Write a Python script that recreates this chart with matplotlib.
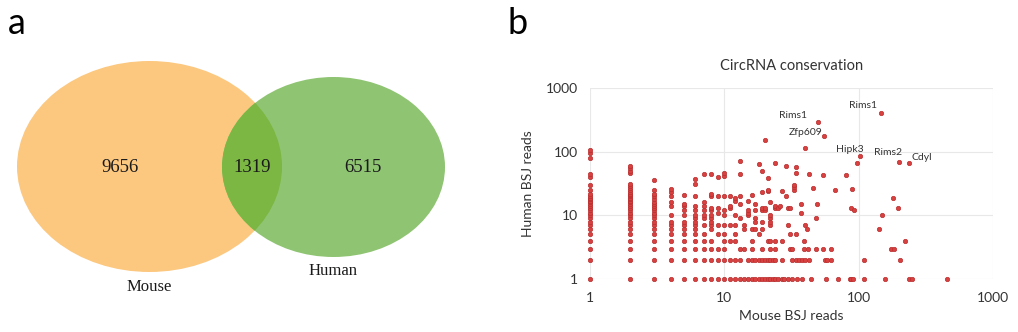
import matplotlib
matplotlib.use('Agg')
import matplotlib.pyplot as plt
from matplotlib.patches import Ellipse

# ---------------- Venn data ----------------
venn_sets = ['Mouse', 'Human']
venn_counts = [9656, 1319, 6515]   # mouse only, shared, human only

# ---------------- Scatter data (Mouse BSJ reads vs Human BSJ reads) ----------------
# points with human reads == 1 (mouse reads)
human1_mouse = [1, 2, 3, 4, 5, 6, 7, 8, 9, 10, 11, 12, 13, 14, 15, 16, 17, 18, 19, 20,
                21, 22, 23, 24, 25, 27, 28, 30, 32, 35, 38, 44, 57, 70, 86, 88, 90, 110,
                158, 237, 251, 457]
# points with human reads == 2 (mouse reads)
human2_mouse = [1, 2, 3, 4, 5, 6, 7, 8, 9, 10, 11, 12, 13, 15, 16, 17, 18, 19, 20, 21,
                22, 23, 24, 27, 32, 34, 36, 38, 40, 43, 56, 58, 62, 109, 202]
# columns at low mouse reads (human reads >= 3)
human_at_m1 = [3, 4, 5, 6, 7, 8, 9, 10, 11, 12, 13, 14, 15, 16, 17, 18, 19, 20, 22, 25,
               30, 40, 45, 80, 95, 105]
human_at_m2 = [3, 4, 5, 6, 7, 8, 9, 10, 11, 12, 13, 14, 15, 16, 17, 18, 19, 20, 21, 22,
               23, 25, 27, 29, 31, 46, 50, 55, 60]
human_at_m3 = [3, 4, 5, 6, 7, 8, 9, 10, 11, 12, 13, 14, 15, 16, 18, 20, 22, 25, 36]
human_at_m4 = [3, 4, 5, 6, 7, 8, 10, 14, 16, 20, 23, 26]
human_at_m5 = [3, 4, 5, 6, 7, 8, 10, 12, 14, 15, 21]
human_at_m6 = [3, 4, 5, 6, 7, 8, 9, 10, 12, 14, 20, 31, 37]
human_at_m7 = [3, 4, 5, 7, 9, 10, 12, 14, 16, 45]
human_at_m8 = [3, 4, 6, 7, 8, 9, 10, 12, 13, 20, 22, 45]
human_at_m9 = [3, 5, 7, 11, 13, 20, 40]
human_at_m10 = [3, 4, 5, 7, 10, 12, 20, 42, 46]
# remaining scattered points (mouse >= 11, human >= 3), grouped by mouse value
other_mouse = (
    [11] * 5 + [12] * 6 + [13] * 6 + [14] * 3 + [15] * 4 + [16] * 4 + [17] * 5 +
    [18] * 2 + [19] * 7 + [20] * 3 + [21] * 4 + [22] * 7 + [24] * 5 + [25] + [26] +
    [27] * 2 + [29] * 2 + [30] * 2 + [31] * 3 + [32] + [33] * 3 + [34] * 3 +
    [37] * 2 + [39] * 2 + [40] * 2 + [41] + [42] + [43] + [46] + [48] * 2 + [49] +
    [54] * 2 + [62] + [67] + [81] + [87] + [89] + [93] + [97] +
    [142] + [150] + [174] + [180] + [184] + [195] + [222]
)
other_human = (
    [4, 7, 13, 14, 20] + [4, 5, 7, 10, 17, 19] + [3, 9, 15, 20, 45, 72] +
    [3, 6, 7] + [10, 11, 12, 17] + [3, 4, 6, 21] + [6, 8, 9, 12, 15] +
    [5, 64] + [3, 6, 8, 12, 13, 23, 50] + [12, 13, 152] + [4, 24, 25, 39] +
    [3, 4, 7, 8, 9, 10, 16] + [3, 4, 13, 14, 66] + [13] + [14] +
    [4, 24] + [20, 60] + [7, 13] + [3, 5, 13] + [3] + [25, 28, 30] + [5, 46, 57] +
    [11, 15] + [3, 4] + [7, 114] + [6] + [3] + [45] + [27] + [3, 9] + [15] +
    [3, 43] + [3] + [25] + [43] + [13] + [26] + [12] + [66] +
    [6] + [10] + [3] + [19] + [3] + [13] + [4]
)
# labelled circRNAs
label_names = ['Rims1', 'Zfp609', 'Hipk3', 'Rims1', 'Rims2', 'Cdyl']
label_mouse = [50, 55, 103, 147, 199, 239]
label_human = [294, 178, 85, 411, 70, 67]

# ---------------- Figure ----------------
W, H = 1018, 332
fig = plt.figure(figsize=(W / 100, H / 100), dpi=100)

# ---- panel a: Venn ----
axv = fig.add_axes([0, 0, 500 / W, 1])
axv.set_xlim(0, 500)
axv.set_ylim(H, 0)
axv.axis('off')

orange = '#FCC880'
green = '#8FC473'
overlap = '#7BB742'
e_m = Ellipse((149.5, 166.5), 265, 211, facecolor=orange, edgecolor='none', zorder=1)
e_h = Ellipse((333.5, 167), 223, 180, facecolor=green, edgecolor='none', zorder=2)
e_o = Ellipse((149.5, 166.5), 265, 211, facecolor=overlap, edgecolor='none', zorder=3)
axv.add_patch(e_m)
axv.add_patch(e_h)
axv.add_patch(e_o)
e_o.set_clip_path(e_h)

serif = 'Liberation Serif'
txt = '#1a1a1a'
axv.text(120, 168, f'{venn_counts[0]}', ha='center', va='center', fontsize=13.5, family=serif, color=txt, zorder=5)
axv.text(252, 168, f'{venn_counts[1]}', ha='center', va='center', fontsize=13.5, family=serif, color=txt, zorder=5)
axv.text(363, 168, f'{venn_counts[2]}', ha='center', va='center', fontsize=13.5, family=serif, color=txt, zorder=5)
axv.text(149, 287, venn_sets[0], ha='center', va='center', fontsize=12, family=serif, color=txt)
axv.text(333, 271, venn_sets[1], ha='center', va='center', fontsize=12, family=serif, color=txt)

fig.text(8 / W, 1 - 24 / H, 'a', fontsize=26, family='Lato', ha='left', va='center')
fig.text(507 / W, 1 - 24 / H, 'b', fontsize=26, family='Lato', ha='left', va='center')

# ---- panel b: scatter ----
ax = fig.add_axes([590 / W, 1 - 279 / H, (993 - 590) / W, (279 - 88) / H])
ax.set_xscale('log')
ax.set_yscale('log')
ax.set_xlim(1, 1000)
ax.set_ylim(1, 1000)

red = '#D94040'
edge = '#B83030'
kw = dict(s=10, c=red, edgecolors=edge, linewidths=0.5, zorder=3, clip_on=False)

ax.scatter(human1_mouse, [1] * len(human1_mouse), **kw)
ax.scatter(human2_mouse, [2] * len(human2_mouse), **kw)
cols = [human_at_m1, human_at_m2, human_at_m3, human_at_m4, human_at_m5,
        human_at_m6, human_at_m7, human_at_m8, human_at_m9, human_at_m10]
for m, col in enumerate(cols, start=1):
    ax.scatter([m] * len(col), col, **kw)
ax.scatter(other_mouse, other_human, **kw)
ax.scatter(label_mouse, label_human, **kw)

lab_font = dict(fontsize=7.5, family='Lato', color='#333333')
offsets = [((-8, 4.5), 'right'), ((-1, 2.5), 'right'), ((-7.5, 4.5), 'center'),
           ((-3, 5), 'right'), ((-8, 6.5), 'center'), ((1.5, 4), 'left')]
for name, mx, hy, (off, ha) in zip(label_names, label_mouse, label_human, offsets):
    ax.annotate(name, (mx, hy), xytext=off, textcoords='offset points',
                ha=ha, va='center', **lab_font)

for s in ax.spines.values():
    s.set_visible(False)
ax.grid(True, which='major', color='#E8E8E8', linewidth=0.8)
ax.set_axisbelow(True)
ax.minorticks_off()
ax.set_xticks([1, 10, 100, 1000])
ax.set_yticks([1, 10, 100, 1000])
ax.set_xticklabels(['1', '10', '100', '1000'])
ax.set_yticklabels(['1', '10', '100', '1000'])
ax.tick_params(length=0, labelsize=10, labelcolor='#333333', pad=9)
for t in ax.get_xticklabels() + ax.get_yticklabels():
    t.set_family('Lato')

ax.set_title('CircRNA conservation', fontsize=10.5, family='Lato', color='#333333', pad=13)
ax.set_xlabel('Mouse BSJ reads', fontsize=10, family='Lato', color='#333333', labelpad=5)
ax.set_ylabel('Human BSJ reads', fontsize=10, family='Lato', color='#333333', labelpad=8)

fig.savefig('out.png', dpi=100)
